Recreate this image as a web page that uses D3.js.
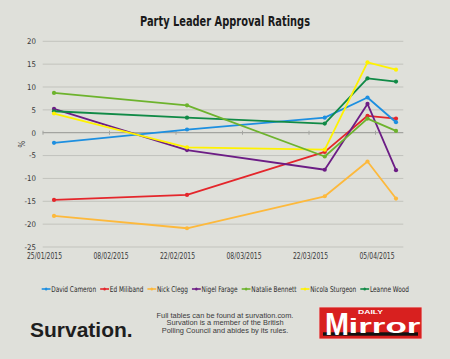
<!DOCTYPE html>
<html>
<head>
<meta charset="utf-8">
<script src="https://cdn.jsdelivr.net/npm/d3@7"></script>
<style>
  html, body { margin: 0; padding: 0; background: #dfe0da; }
  svg { display: block; }
</style>
</head>
<body>
<div id="chart"></div>
<script>
const dates = ["2015-01-27", "2015-02-24", "2015-03-25", "2015-04-03", "2015-04-09"];
const leaders = ["David Cameron", "Ed Miliband", "Nick Clegg", "Nigel Farage", "Natalie Bennett", "Nicola Sturgeon", "Leanne Wood"];
const colors = ["#1d8fe0", "#e4262b", "#fdb93c", "#6c1d85", "#6db32d", "#fff200", "#108a46"];
const cameron = [-2.2, 0.7, 3.3, 7.7, 2.3];
const miliband = [-14.7, -13.6, -4.2, 3.7, 3.1];
const clegg = [-18.2, -20.9, -13.9, -6.3, -14.4];
const farage = [5.2, -3.8, -8.1, 6.3, -8.2];
const bennett = [8.7, 6.0, -5.2, 3.1, 0.4];
const sturgeon = [4.2, -3.2, -3.7, 15.4, 13.8];
const wood = [4.7, 3.3, 2.0, 11.9, 11.2];
const seriesValues = [cameron, miliband, clegg, farage, bennett, sturgeon, wood];
// drawing order: later series sit on top
const drawOrder = [2, 1, 3, 0, 6, 5, 4];
const yTicks = [20, 15, 10, 5, 0, -5, -10, -15, -20, -25];
const xTicks = ["2015-01-25", "2015-02-08", "2015-02-22", "2015-03-08", "2015-03-22", "2015-04-05"];

const width = 450, height = 359;
const narrow = "'Liberation Sans Narrow', 'DejaVu Sans Condensed', 'Roboto Condensed', sans-serif";
const arial = "'Liberation Sans', Arial, sans-serif";
const fmtDate = d3.utcFormat("%d/%m/%Y");
const parse = d3.utcParse("%Y-%m-%d");

// squeeze a text to a given width (the fonts here are wider than the original condensed face)
function fit(sel, w) {
    sel.attr("textLength", w).attr("lengthAdjust", "spacingAndGlyphs");
    return sel;
}

const svg = d3.select("#chart").append("svg")
    .attr("width", width).attr("height", height);

svg.append("rect").attr("width", width).attr("height", height).attr("fill", "#dfe0da");

const x = d3.scaleUtc()
    .domain([parse(xTicks[0]), parse(xTicks[xTicks.length - 1])])
    .range([44.5, 377]);
const y = d3.scaleLinear().domain([-25, 20]).range([247, 41.3]);
const plotLeft = 42.7, plotRight = 403.3;

// title
fit(svg.append("text")
    .attr("x", 140).attr("y", 25.5)
    .attr("font-family", narrow)
    .attr("font-weight", "bold")
    .attr("font-size", 14.5)
    .attr("fill", "#1a1a1a")
    .text("Party Leader Approval Ratings"), 170);

// horizontal gridlines
svg.append("g").selectAll("line")
    .data(yTicks.filter(v => v !== 0))
    .join("line")
    .attr("x1", plotLeft).attr("x2", plotRight)
    .attr("y1", d => y(d)).attr("y2", d => y(d))
    .attr("stroke", "#c2c3bd").attr("stroke-width", 1);

// y tick labels
svg.append("g").selectAll("text")
    .data(yTicks)
    .join("text")
    .attr("x", 36).attr("y", d => y(d) + 2.8)
    .attr("text-anchor", "end")
    .attr("font-family", narrow)
    .attr("font-size", 7.8)
    .attr("fill", "#3a3a3a")
    .text(d => d);

// y axis title
svg.append("text")
    .attr("transform", `translate(18,${y(-2.5)}) rotate(90)`)
    .attr("text-anchor", "middle")
    .attr("font-family", narrow)
    .attr("font-size", 8)
    .attr("fill", "#3a3a3a")
    .text("%");

// zero line with ticks
svg.append("line")
    .attr("x1", plotLeft).attr("x2", plotRight)
    .attr("y1", y(0)).attr("y2", y(0))
    .attr("stroke", "#a3a4a0").attr("stroke-width", 1.2);
svg.append("g").selectAll("line")
    .data(xTicks)
    .join("line")
    .attr("x1", d => x(parse(d)) - 1.5).attr("x2", d => x(parse(d)) - 1.5)
    .attr("y1", y(0) - 2).attr("y2", y(0) + 2)
    .attr("stroke", "#a3a4a0").attr("stroke-width", 1);

// x tick labels
svg.append("g").selectAll("text")
    .data(xTicks)
    .join("text")
    .attr("x", d => x(parse(d)) - 17.5)
    .attr("y", 259)
    .attr("font-family", narrow)
    .attr("font-size", 8.2)
    .attr("fill", "#3a3a3a")
    .attr("textLength", 35)
    .attr("lengthAdjust", "spacingAndGlyphs")
    .text(d => fmtDate(parse(d)));

// series
const line = d3.line()
    .x((d, i) => x(parse(dates[i])))
    .y(d => y(d));

const seriesG = svg.append("g");
drawOrder.forEach(k => {
    const g = seriesG.append("g");
    g.append("path")
        .attr("d", line(seriesValues[k]))
        .attr("fill", "none")
        .attr("stroke", colors[k])
        .attr("stroke-width", 1.8)
        .attr("stroke-linejoin", "round");
    g.selectAll("circle")
        .data(seriesValues[k])
        .join("circle")
        .attr("cx", (d, i) => x(parse(dates[i])))
        .attr("cy", d => y(d))
        .attr("r", 2.1)
        .attr("fill", colors[k]);
});

// legend: laid out with measured widths, then squeezed to the original span
const legendLeft = 41.7, legendRight = 409;
const legend = svg.append("g");
let lx = 0;
leaders.forEach((name, i) => {
    const item = legend.append("g").attr("transform", `translate(${lx},0)`);
    item.append("line")
        .attr("x1", 0).attr("x2", 11).attr("y1", 0).attr("y2", 0)
        .attr("stroke", colors[i]).attr("stroke-width", 1.6);
    item.append("circle").attr("cx", 5.5).attr("cy", 0).attr("r", 1.6).attr("fill", colors[i]);
    const t = item.append("text")
        .attr("x", 12).attr("y", 2.8)
        .attr("font-family", narrow)
        .attr("font-size", 8)
        .attr("fill", "#2a2a2a")
        .text(name);
    lx += 12 + t.node().getComputedTextLength() + 5;
});
const legendScale = (legendRight - legendLeft) / (lx - 5);
legend.attr("transform", `translate(${legendLeft},289) scale(${legendScale},1)`);

// footer: Survation
svg.append("text")
    .attr("x", 30).attr("y", 337)
    .attr("font-family", arial)
    .attr("font-weight", "bold")
    .attr("font-size", 21)
    .attr("fill", "#1e1e1e")
    .text("Survation.");

const note = ["Full tables can be found at survation.com.", "Survation is a member of the British", "Polling Council and abides by its rules."];
svg.append("g").selectAll("text")
    .data(note)
    .join("text")
    .attr("x", 225).attr("y", (d, i) => 317.5 + i * 7.6)
    .attr("text-anchor", "middle")
    .attr("font-family", arial)
    .attr("font-size", 7.4)
    .attr("fill", "#3a3a3a")
    .text(d => d);

// Daily Mirror logo
const logo = svg.append("g").attr("transform", "translate(319,307)");
logo.append("rect").attr("width", 103).attr("height", 32)
    .attr("fill", "#d8201f").attr("stroke", "#efd9d6").attr("stroke-width", 0.8);
logo.append("rect").attr("x", 4).attr("y", 25.3).attr("width", 95).attr("height", 3.4).attr("fill", "#111");
fit(logo.append("text")
    .attr("x", 39).attr("y", 7)
    .attr("font-family", arial)
    .attr("font-weight", "bold")
    .attr("font-size", 6.2)
    .attr("fill", "#fff")
    .text("DAILY"), 25);
fit(logo.append("text")
    .attr("x", 6).attr("y", 28)
    .attr("font-family", arial)
    .attr("font-weight", "bold")
    .attr("font-size", 32)
    .attr("fill", "#fff")
    .text("M"), 24);
fit(logo.append("text")
    .attr("x", 29.5).attr("y", 26)
    .attr("font-family", arial)
    .attr("font-weight", "bold")
    .attr("font-size", 20)
    .attr("fill", "#fff")
    .text("irror"), 72);
</script>
</body>
</html>
